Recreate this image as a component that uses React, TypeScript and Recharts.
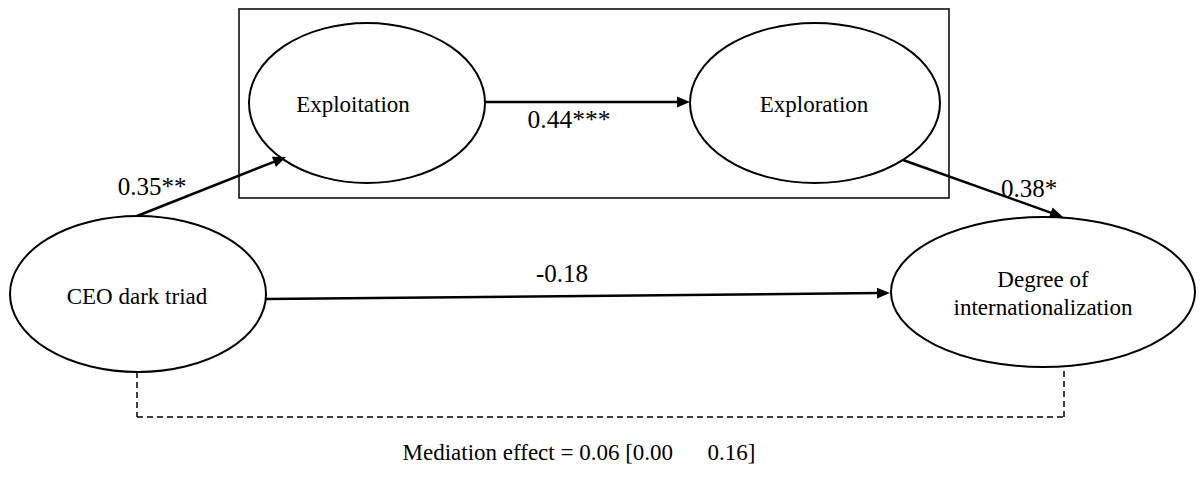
import React from 'react';
import { ScatterChart, Scatter, XAxis, YAxis, ReferenceLine, ReferenceArea } from 'recharts';

// Diagram coordinates are in data units (x: 0..1204, y: 0..477 top-down)
const nodeNames = ['CEO dark triad', 'Exploitation', 'Exploration', 'Degree of internationalization'];
const nodeX = [138, 367, 815, 1043];
const nodeY = [294, 103, 103, 292];
const nodeRx = [128, 118, 125, 152];
const nodeRy = [78, 80, 80, 75];

// text placed inside the ellipses (one entry per line)
const nodeTextLines = ['CEO dark triad', 'Exploitation', 'Exploration', 'Degree of', 'internationalization'];
const nodeTextX = [137, 353, 814, 1043, 1043];
const nodeTextY = [304, 112, 112, 287, 315];

// structural paths between variables
const pathLabels = ['0.35**', '0.44***', '0.38*', '-0.18'];
const pathFromX = [137, 485, 903, 266];
const pathFromY = [216, 102, 160, 299];
const pathToX = [286, 690, 1063, 890];
const pathToY = [157, 102, 217, 293];
const pathLabelX = [152, 569, 1029, 562];
const pathLabelY = [195, 128, 197, 282];

// dashed mediation bracket
const bracketX = [137, 137, 1064, 1064];
const bracketY = [372, 417, 417, 367];

const mediationText = 'Mediation effect = 0.06 [0.00' + '\u00a0'.repeat(5) + ' 0.16]';
const mediationX = 579;
const mediationY = 460;

// box around the two mediators
const boxX = [239, 949];
const boxY = [9, 198];

const FONT = "'Liberation Serif', 'DejaVu Serif', serif";
const NODE_FONT = 23;
const LABEL_FONT = 25;

const nodeData = nodeNames.map((name, i) => ({ name, x: nodeX[i], y: nodeY[i], rx: nodeRx[i], ry: nodeRy[i] }));
const nodeTextData = nodeTextLines.map((text, i) => ({ text, x: nodeTextX[i], y: nodeTextY[i], size: NODE_FONT }));
const pathLabelData = pathLabels.map((text, i) => ({
  text,
  x: pathLabelX[i],
  y: pathLabelY[i],
  size: text === '0.44***' ? 25.5 : LABEL_FONT,
}));
const noteData = [{ text: mediationText, x: mediationX, y: mediationY, size: NODE_FONT }];

const EllipseShape = (props: any) => {
  const { cx, cy, payload } = props;
  return <ellipse cx={cx} cy={cy} rx={payload.rx} ry={payload.ry} fill="none" stroke="#000" strokeWidth={2} />;
};

const TextShape = (props: any) => {
  const { cx, cy, payload } = props;
  return (
    <text
      x={cx}
      y={cy}
      textAnchor="middle"
      style={{ fontFamily: FONT, fontSize: payload.size, fill: '#000' }}
    >
      {payload.text}
    </text>
  );
};

const ArrowShape = (props: any) => {
  const { x1, y1, x2, y2 } = props;
  const dx = x2 - x1;
  const dy = y2 - y1;
  const len = Math.sqrt(dx * dx + dy * dy) || 1;
  const ux = dx / len;
  const uy = dy / len;
  const headLen = 13;
  const halfW = 5.5;
  const bx = x2 - ux * headLen;
  const by = y2 - uy * headLen;
  const pts = [
    `${x2},${y2}`,
    `${bx - uy * halfW},${by + ux * halfW}`,
    `${bx + uy * halfW},${by - ux * halfW}`,
  ].join(' ');
  return (
    <g>
      <line x1={x1} y1={y1} x2={bx + ux * 2} y2={by + uy * 2} stroke="#000" strokeWidth={2.5} />
      <polygon points={pts} fill="#000" />
    </g>
  );
};

export default function App() {
  return (
    <div style={{ position: 'absolute', left: 0, top: 0, background: '#fff' }}>
      <ScatterChart width={1204} height={477} margin={{ top: 0, right: 0, bottom: 0, left: 0 }}>
        <XAxis type="number" dataKey="x" domain={[0, 1204]} hide />
        <YAxis type="number" dataKey="y" domain={[0, 477]} reversed hide />
        <ReferenceArea
          x1={boxX[0]}
          x2={boxX[1]}
          y1={boxY[0]}
          y2={boxY[1]}
          fill="none"
          fillOpacity={0}
          stroke="#000"
          strokeWidth={1.5}
        />
        {pathLabels.map((_, i) => (
          <ReferenceLine
            key={`p${i}`}
            segment={[
              { x: pathFromX[i], y: pathFromY[i] },
              { x: pathToX[i], y: pathToY[i] },
            ]}
            ifOverflow="visible"
            shape={ArrowShape}
          />
        ))}
        {bracketX.slice(1).map((_, i) => (
          <ReferenceLine
            key={`b${i}`}
            segment={[
              { x: bracketX[i], y: bracketY[i] },
              { x: bracketX[i + 1], y: bracketY[i + 1] },
            ]}
            ifOverflow="visible"
            stroke="#000"
            strokeWidth={1.5}
            strokeDasharray="6 4"
          />
        ))}
        <Scatter data={nodeData} shape={EllipseShape} isAnimationActive={false} />
        <Scatter data={nodeTextData} shape={TextShape} isAnimationActive={false} />
        <Scatter data={pathLabelData} shape={TextShape} isAnimationActive={false} />
        <Scatter data={noteData} shape={TextShape} isAnimationActive={false} />
      </ScatterChart>
    </div>
  );
}
